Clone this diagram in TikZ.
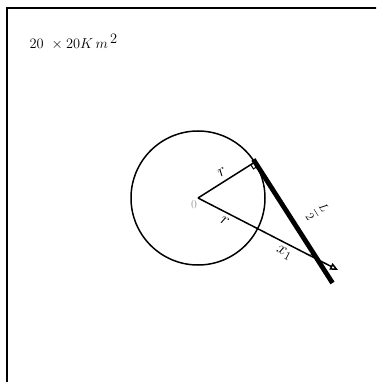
\documentclass[tikz,border=0pt]{standalone}
\usetikzlibrary{calc,arrows.meta}
\begin{document}
\begin{tikzpicture}[x=1pt,y=-1pt,
  thinline/.style={line width=1.5pt},
  lbl/.style={inner sep=0pt,font=\LARGE}]
\useasboundingbox (0,0) rectangle (376,382);
\clip (0,0) rectangle (376,382);
\draw[line width=2pt] (7,8) rectangle (420,420);
\node[inner sep=0pt,anchor=base west,font=\Large] (area) at (29.3,49)
  {$20\mkern10mu{\times}\mkern4mu20K\,m^{\mkern4mu\textstyle 2}$};
\coordinate (O) at (198,198);
\coordinate (T) at (255,162);
\coordinate (E) at (332.5,283);
\coordinate (A) at (338,270);
\draw[thinline] (O) circle (67pt);
\draw[thinline] (O) -- (T);
\draw[thinline,-{Triangle[open,length=8pt,width=7pt]}] (O) -- (A);
\draw[line width=4.8pt] ($(T)!-3pt!(E)$) -- (E);
\coordinate (X) at (intersection of T--E and O--A);
% right angle mark at tangent point
\draw[line width=1pt] ($(T)!5pt!(O)$) -- ($($(T)!5pt!(O)$)!5pt!-90:(T)$) -- ($(T)!5pt!(E)$);
% small mark at intersection
\draw[line width=1pt] ($(X)!8pt!(O)$) -- ($(X)!8pt!(T)$);
\node[inner sep=0pt,text=gray!80,font=\large] (o) at (194,205) {0};
\node[lbl,rotate=32] (r1) at (222,172) {$r$};
\node[lbl,rotate=-27] (r2) at (225,221) {$r$};
\node[lbl,rotate=-27] (x1) at (284,253) {$x_1$};
\node[inner sep=0pt,font=\large,rotate=-57.7] (L2) at (317,212) {$\displaystyle\frac{L}{2}$};
\end{tikzpicture}
\end{document}
